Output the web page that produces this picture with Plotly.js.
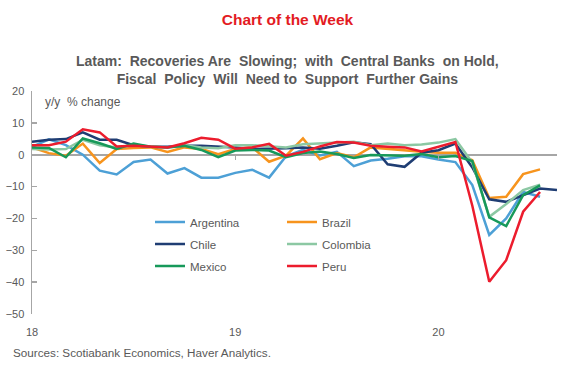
<!DOCTYPE html>
<html>
<head>
<meta charset="utf-8">
<script src="https://cdn.plot.ly/plotly-3.0.1.min.js"></script>
<style>
html,body{margin:0;padding:0;background:#fff;}
#chart{width:575px;height:365px;}
</style>
</head>
<body>
<div id="chart"></div>
<script>
// Monthly y/y % change, Jan 2018 onward
const months = ["2018-01","2018-02","2018-03","2018-04","2018-05","2018-06","2018-07","2018-08","2018-09","2018-10","2018-11","2018-12",
  "2019-01","2019-02","2019-03","2019-04","2019-05","2019-06","2019-07","2019-08","2019-09","2019-10","2019-11","2019-12",
  "2020-01","2020-02","2020-03","2020-04","2020-05","2020-06","2020-07","2020-08"];

const argentina = [2.5, 4.8, 3.0, 0.0, -5.0, -6.2, -2.3, -1.5, -5.9, -4.2, -7.2, -7.2, -5.7, -4.7, -7.2, -0.5, 1.5, -0.2, 0.9, -3.6, -1.8, -1.3, -0.5, -0.5, -1.5, -2.3, -9.5, -25.2, -20.0, -11.7, -13.2];
const brazil    = [2.3, 0.5, -0.3, 3.5, -2.6, 1.8, 2.1, 2.3, 0.9, 2.3, 1.8, 0.2, 1.8, 2.3, -2.2, -0.3, 5.1, -1.4, 0.5, -0.8, 2.3, 1.8, 1.4, 0.9, 0.6, 0.6, -1.7, -13.6, -13.2, -6.1, -4.6];
const chile     = [4.1, 4.7, 4.9, 7.0, 4.7, 4.7, 3.0, 2.5, 2.5, 2.8, 2.8, 2.6, 2.3, 1.8, 1.8, 2.0, 2.3, 1.9, 2.8, 3.9, 3.3, -3.0, -3.8, 0.6, 1.4, 3.5, -4.0, -14.0, -14.8, -12.7, -10.6, -11.1];
const colombia  = [1.8, 1.6, 1.8, 4.7, 3.0, 2.3, 3.0, 2.6, 2.3, 3.0, 2.3, 2.0, 3.0, 3.0, 2.6, 2.3, 3.3, 3.6, 3.9, 4.1, 3.0, 3.5, 3.0, 3.2, 3.8, 4.9, -2.5, -19.5, -15.5, -11.1, -9.4];
const mexico    = [2.3, 2.1, -0.8, 5.1, 3.6, 1.8, 3.5, 2.5, 2.3, 2.8, 1.5, -0.8, 1.3, 1.5, 1.3, -0.8, 0.5, 1.0, 0.2, -1.0, -0.1, -0.3, -0.3, 0.2, -0.8, -0.4, -2.0, -19.7, -22.4, -12.7, -9.6];
const peru      = [3.0, 3.0, 4.1, 8.0, 7.0, 2.6, 2.8, 2.6, 2.3, 3.6, 5.3, 4.7, 1.9, 2.3, 3.4, -0.3, 0.9, 2.6, 4.0, 3.8, 2.8, 2.5, 2.3, 1.0, 2.5, 4.0, -16.0, -39.9, -33.1, -17.9, -11.7];

const yearTickVals = [0, 12, 24];
const yearTickText = ["18", "19", "20"];
const yTickVals = [-50, -40, -30, -20, -10, 0, 10, 20];

const idx = months.map((m, i) => i);

const seriesDefs = [
  {name: "Argentina", y: argentina, color: "#4DA0D6", legend: "legend"},
  {name: "Brazil",    y: brazil,    color: "#F7941D", legend: "legend2"},
  {name: "Chile",     y: chile,     color: "#1F3D73", legend: "legend"},
  {name: "Colombia",  y: colombia,  color: "#8CC8A3", legend: "legend2"},
  {name: "Mexico",    y: mexico,    color: "#17995A", legend: "legend"},
  {name: "Peru",      y: peru,      color: "#EC1C2D", legend: "legend2"}
];

const traces = seriesDefs.map(s => ({
  type: "scatter",
  mode: "lines",
  name: s.name,
  x: idx.slice(0, s.y.length),
  y: s.y,
  line: {color: s.color, width: 2.5},
  legend: s.legend,
  legendgroup: s.name,
  hoverinfo: "skip"
}));

// invisible trace on the zero-line axis to carry the year ticks
traces.push({
  type: "scatter", mode: "lines", x: [0, 31], y: [0, 0], xaxis: "x2", yaxis: "y",
  line: {color: "rgba(0,0,0,0)", width: 0}, showlegend: false, hoverinfo: "skip"
});

const gray = "#595959";
const axisGray = "#A6A6A6";
const font = "Liberation Sans, Arial, sans-serif";

const legendCommon = {
  orientation: "v",
  bgcolor: "rgba(0,0,0,0)",
  borderwidth: 0,
  font: {family: font, size: 11.5, color: gray},
  itemwidth: 30,
  tracegroupgap: 3,
  xanchor: "left",
  yanchor: "top",
  itemclick: false,
  itemdoubleclick: false
};

const layout = {
  width: 575,
  height: 365,
  margin: {l: 32, r: 18, t: 91, b: 51, pad: 0},
  paper_bgcolor: "#ffffff",
  plot_bgcolor: "#ffffff",
  font: {family: font, color: gray},
  showlegend: true,
  title: {
    text: "<b>Chart of the Week</b>",
    font: {family: font, size: 15.5, color: "#E31B23"},
    x: 0.5, xref: "container", xanchor: "center",
    y: 1 - 20 / 365, yref: "container", yanchor: "middle"
  },
  xaxis: {
    range: [0, 31],
    tickvals: yearTickVals,
    ticktext: yearTickText,
    showgrid: false,
    zeroline: false,
    showline: false,
    ticks: "",
    ticklabelstandoff: 10,
    tickfont: {family: font, size: 11, color: gray},
    fixedrange: true
  },
  xaxis2: {
    range: [0, 31],
    overlaying: "x",
    anchor: "free",
    position: 50 / 70,
    side: "bottom",
    tickvals: [12, 24],
    ticks: "outside",
    ticklen: 4,
    tickwidth: 1,
    tickcolor: axisGray,
    showticklabels: false,
    showgrid: false,
    zeroline: false,
    showline: false
  },
  yaxis: {
    range: [-50, 20],
    tickvals: yTickVals,
    showgrid: false,
    zeroline: true,
    zerolinecolor: axisGray,
    zerolinewidth: 2,
    showline: true,
    linecolor: axisGray,
    linewidth: 1.5,
    ticks: "inside",
    ticklen: 5,
    tickwidth: 1.5,
    tickcolor: axisGray,
    tickfont: {family: font, size: 11, color: gray},
    ticklabelstandoff: 4,
    fixedrange: true
  },
  legend: Object.assign({}, legendCommon, {x: (150 - 32) / 525, y: (314 - 207.5) / 223}),
  legend2: Object.assign({}, legendCommon, {x: (282 - 32) / 525, y: (314 - 207.5) / 223}),
  annotations: [
    {
      text: "<b>Latam:  Recoveries Are  Slowing;  with  Central Banks  on Hold,</b><br><b>Fiscal  Policy  Will  Need to  Support  Further Gains</b>",
      xref: "paper", yref: "paper",
      x: (287.5 - 32) / 525, y: (314 - 70) / 223,
      xanchor: "center", yanchor: "middle",
      showarrow: false, align: "center",
      font: {family: font, size: 14, color: gray}
    },
    {
      text: "y/y  % change",
      xref: "paper", yref: "paper",
      x: (43 - 32) / 525, y: (314 - 102) / 223,
      xanchor: "left", yanchor: "middle",
      showarrow: false,
      font: {family: font, size: 12, color: gray}
    },
    {
      text: "Sources: Scotiabank Economics, Haver Analytics.",
      xref: "paper", yref: "paper",
      x: (11 - 32) / 525, y: (314 - 352) / 223,
      xanchor: "left", yanchor: "middle",
      showarrow: false,
      font: {family: font, size: 11.7, color: gray}
    }
  ]
};

Plotly.newPlot("chart", traces, layout, {displayModeBar: false, staticPlot: true});
</script>
</body>
</html>
